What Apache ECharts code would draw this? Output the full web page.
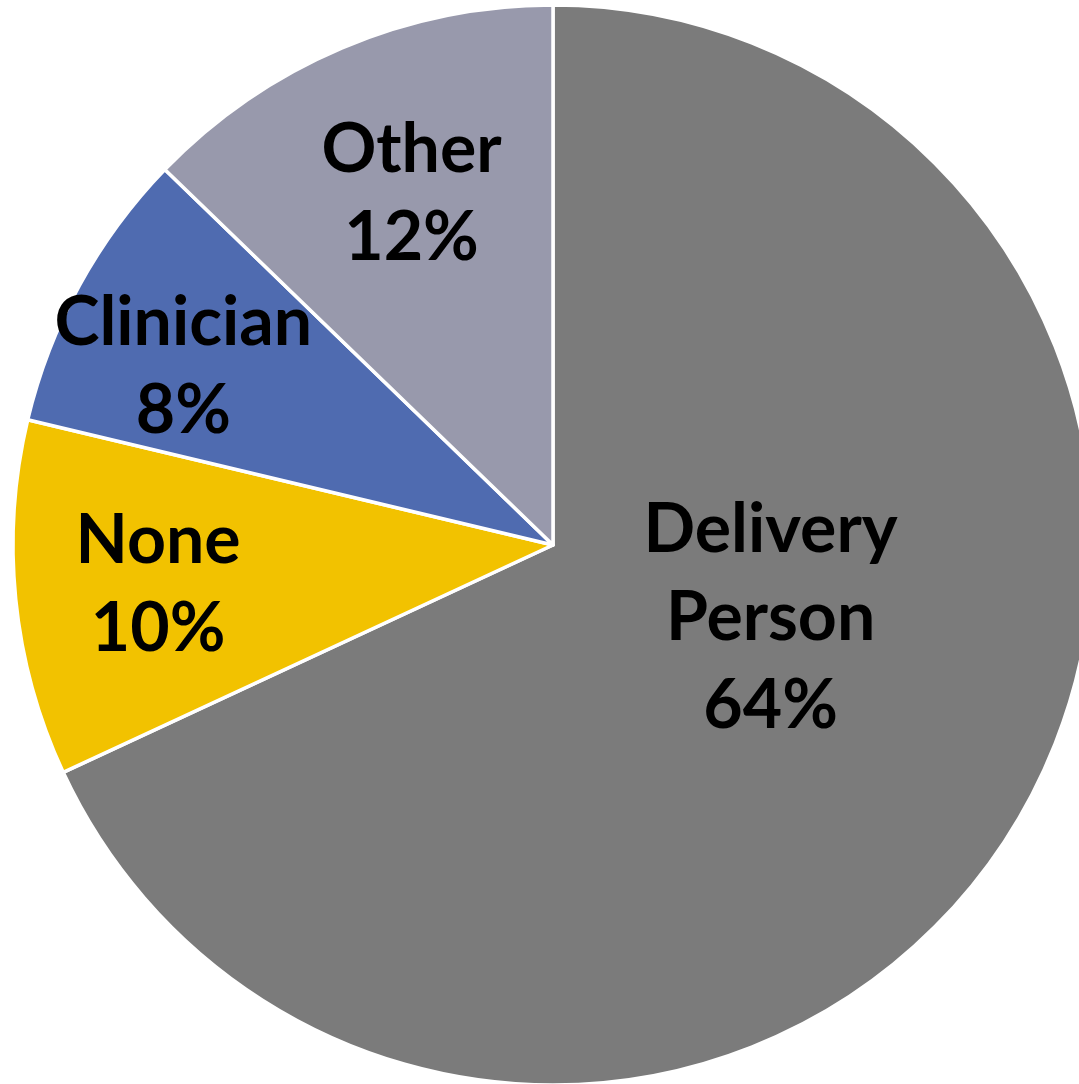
<!DOCTYPE html>
<html>
<head>
<meta charset="utf-8">
<script src="https://cdn.jsdelivr.net/npm/echarts@6/dist/echarts.min.js"></script>
<style>
  html, body { margin: 0; padding: 0; background: #fff; }
  #chart { width: 1079px; height: 1084px; }
</style>
</head>
<body>
<div id="chart"></div>
<script>
// slices, clockwise from 12 o'clock
const categories = ['Delivery\nPerson', 'None', 'Clinician', 'Other']
const percents = [64, 10, 8, 12]
const sliceColors = ['#7b7b7b', '#f2c200', '#4f6bb0', '#9899ac']

// where each label sits: fraction of radius, and a small turn (deg) off the slice middle
const labelRadius = [0.425, 0.735, 0.76, 0.70]
const labelTurn = [-14, 0, -3, 1]

const cx = 553
const cy = 545
const R = 540

const chart = echarts.init(document.getElementById('chart'))

const option = {
    animation: false,
    series: [
        {
            type: 'pie',
            center: [cx, cy],
            radius: R,
            startAngle: 90,
            clockwise: true,
            avoidLabelOverlap: false,
            itemStyle: {
                borderColor: '#ffffff',
                borderWidth: 3.5
            },
            label: {
                show: true,
                position: 'inside',
                formatter: p => p.name + '\n' + p.value + '%',
                color: '#000',
                fontFamily: 'Lato',
                fontWeight: 'bold',
                fontSize: 68,
                lineHeight: 88
            },
            labelLine: { show: false },
            labelLayout: function (params) {
                const i = params.dataIndex
                const r = params.labelRect
                const mx = r.x + r.width / 2
                const my = r.y + r.height / 2
                const a = Math.atan2(my - cy, mx - cx) + labelTurn[i] * Math.PI / 180
                const tx = cx + Math.cos(a) * R * labelRadius[i]
                const ty = cy + Math.sin(a) * R * labelRadius[i]
                return { dx: tx - mx, dy: ty - my }
            },
            data: categories.map((name, i) => ({
                name: name,
                value: percents[i],
                itemStyle: { color: sliceColors[i] }
            }))
        }
    ]
}
chart.setOption(option)
</script>
</body>
</html>
